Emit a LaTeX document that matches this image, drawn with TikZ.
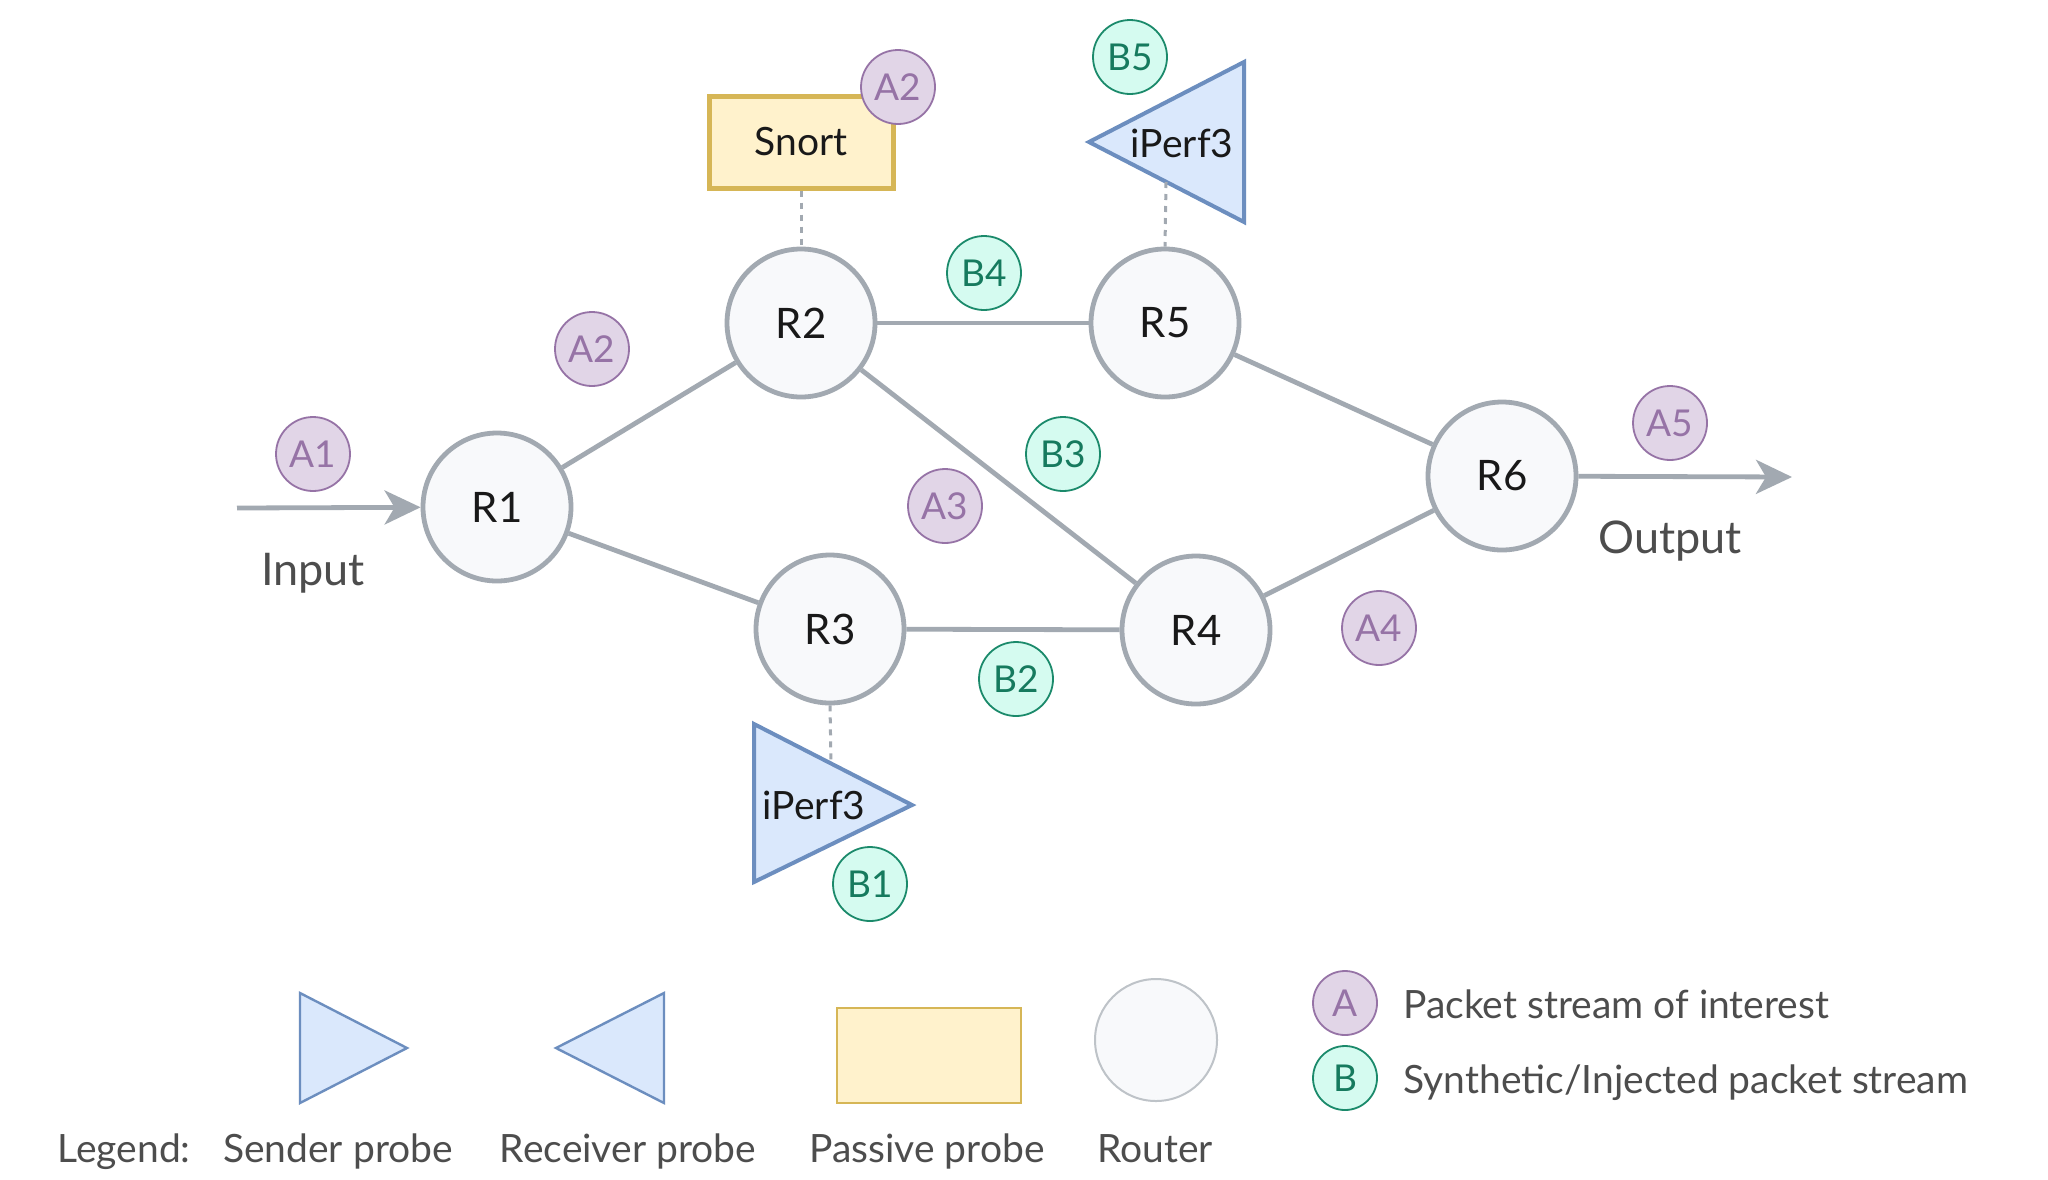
\documentclass[tikz,border=0pt]{standalone}
\usepackage{fontspec}
\setmainfont{Lato}
\usetikzlibrary{arrows.meta}
\definecolor{lineg}{HTML}{A2A9B1}
\definecolor{routerf}{HTML}{F8F9FB}
\definecolor{purs}{HTML}{9673A6}
\definecolor{purf}{HTML}{E1D5E7}
\definecolor{grns}{HTML}{1B8A6B}
\definecolor{grnf}{HTML}{D5FBF0}
\definecolor{grnt}{HTML}{167A5E}
\definecolor{blus}{HTML}{6C8EBF}
\definecolor{bluf}{HTML}{DAE8FC}
\definecolor{yels}{HTML}{D6B656}
\definecolor{yelf}{HTML}{FFF2CC}
\definecolor{txtg}{HTML}{4D4D4D}
\tikzset{
  router/.style={circle, draw=lineg, fill=routerf, line width=2.4pt, minimum size=74pt, inner sep=0pt,
    font=\fontsize{21}{25}\selectfont, text=black!90},
  lbla/.style={circle, draw=purs, fill=purf, line width=0.9pt, minimum size=37pt, inner sep=0pt,
    font=\fontsize{18.5}{22}\selectfont, text=purs},
  lblb/.style={circle, draw=grns, fill=grnf, line width=0.9pt, minimum size=37pt, inner sep=0pt,
    font=\fontsize{18.5}{22}\selectfont, text=grnt},
  link/.style={draw=lineg, line width=2.4pt},
  tap/.style={draw=lineg, line width=1.5pt, dash pattern=on 3pt off 3pt},
  flow/.style={draw=lineg, line width=2.4pt, -{Stealth[length=18pt, width=17pt, inset=5pt]}},
  probe/.style={draw=blus, fill=bluf, line width=2pt, line join=miter},
  probetxt/.style={font=\fontsize{19.5}{23}\selectfont, text=black!90, inner sep=0pt},
  iotxt/.style={font=\fontsize{22.5}{27}\selectfont, text=txtg, inner sep=0pt, anchor=base},
  legtxt/.style={font=\fontsize{19.5}{23}\selectfont, text=txtg, inner sep=0pt, anchor=base},
}
\begin{document}
\begin{tikzpicture}[x=0.5pt, y=-0.5pt]
\useasboundingbox[fill=white] (0,0) rectangle (2048,1179);

% probes (drawn first, behind)
\draw[probe] (1244,62) -- (1244,222) -- (1089,142) -- cycle;
\node[probetxt] (rcvtxt) at (1182,143) {iPerf3};
\draw[probe] (754,724) -- (754,882) -- (912,805) -- cycle;
\node[probetxt] (sndtxt) at (814,805) {iPerf3};
\node[draw=yels, fill=yelf, line width=2.5pt, minimum width=92pt, minimum height=46pt, inner sep=0pt,
  font=\fontsize{19.5}{23}\selectfont, text=black!90] (snort) at (801,142) {Snort};

% routers
\node[router] (R1) at (497,507) {R1};
\node[router] (R2) at (801,323) {R2};
\node[router] (R3) at (830,629) {R3};
\node[router] (R4) at (1196,630) {R4};
\node[router] (R5) at (1165,323) {R5};
\node[router] (R6) at (1502,476) {R6};

% connectors
\draw[link] (R1) -- (R2);
\draw[link] (R1) -- (R3);
\draw[link] (R2) -- (R5);
\draw[link] (R2) -- (R4);
\draw[link] (R3) -- (R4);
\draw[link] (R5) -- (R6);
\draw[link] (R4) -- (R6);

\coordinate (rcvedge) at (1166,182);
\coordinate (sndedge) at (831,763);
\draw[tap] (snort.south) -- (R2.north);
\draw[tap] (rcvedge) -- (R5.north);
\draw[tap] (R3.south) -- (sndedge);

\coordinate (in) at (237,508);
\coordinate (out) at (1792,477);
\draw[flow] (in) -- (R1);
\draw[flow] (R6) -- (out);
\node[iotxt] (inlbl) at (313,585) {Input};
\node[iotxt] (outlbl) at (1670,553) {Output};

% stream labels
\node[lbla] (A1) at (313,454) {A1};
\node[lbla] (A2) at (592,349) {A2};
\node[lbla] (A2s) at (898,87) {A2};
\node[lbla] (A3) at (945,506) {A3};
\node[lbla] (A4) at (1379,628) {A4};
\node[lbla] (A5) at (1670,423) {A5};
\node[lblb] (B1) at (870,884) {B1};
\node[lblb] (B2) at (1016,679) {B2};
\node[lblb] (B3) at (1063,454) {B3};
\node[lblb] (B4) at (984,273) {B4};
\node[lblb] (B5) at (1130,57) {B5};

% legend
\draw[draw=blus, fill=bluf, line width=1.2pt] (300,993) -- (300,1103) -- (407,1048) -- cycle;
\draw[draw=blus, fill=bluf, line width=1.2pt] (664,993) -- (664,1103) -- (556,1048) -- cycle;
\draw[draw=yels, fill=yelf, line width=1pt] (837,1008) rectangle (1021,1103);
\node[circle, draw=lineg!70, fill=routerf, line width=1pt, minimum size=61pt, inner sep=0pt] (legrouter) at (1156,1040) {};
\node[legtxt] (leg0) at (124,1162) {Legend:};
\node[legtxt] (leg1) at (338,1162) {Sender probe};
\node[legtxt] (leg2) at (628,1162) {Receiver probe};
\node[legtxt] (leg3) at (927,1162) {Passive probe};
\node[legtxt] (leg4) at (1155,1162) {Router};
\node[lbla, minimum size=32pt] (legA) at (1345,1003) {A};
\node[lblb, minimum size=32pt] (legB) at (1345,1078) {B};
\node[legtxt, anchor=base west] (legAt) at (1403,1018) {Packet stream of interest};
\node[legtxt, anchor=base west] (legBt) at (1403,1093) {Synthetic/Injected packet stream};
\end{tikzpicture}
\end{document}
